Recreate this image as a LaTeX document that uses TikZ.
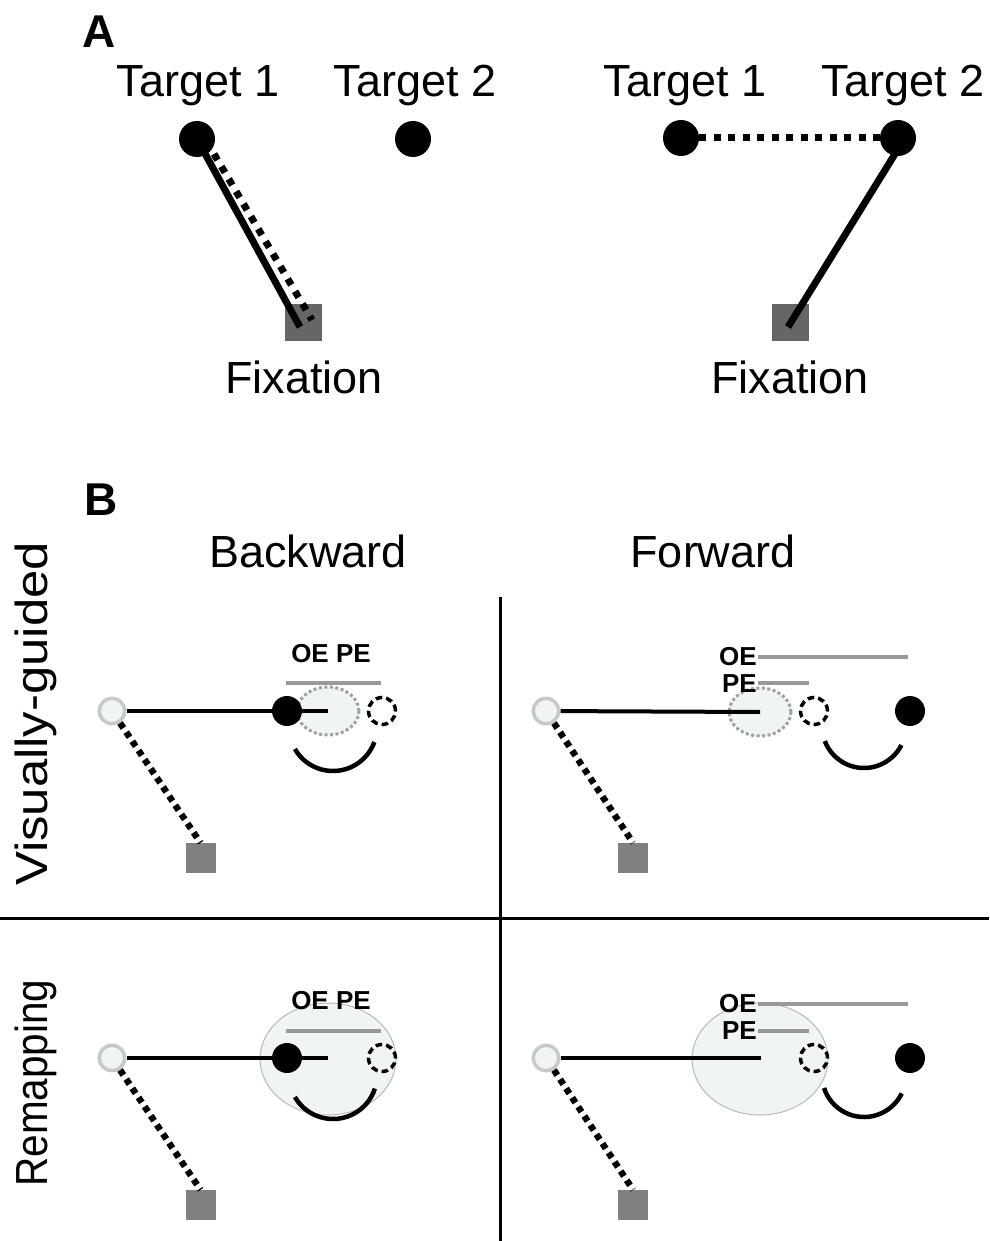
\documentclass[tikz,border=0pt]{standalone}
\usepackage{fontspec}
\setmainfont{Liberation Sans}
\usetikzlibrary{shapes.geometric}
\definecolor{sqA}{HTML}{666666}
\definecolor{sqB}{HTML}{808080}
\definecolor{ringc}{HTML}{C8C8C8}
\definecolor{pale}{HTML}{F0F4F5}
\definecolor{barc}{HTML}{999999}
\definecolor{ellc}{HTML}{A0A0A0}
\definecolor{bigell}{HTML}{B8B8B8}
\begin{document}
\begin{tikzpicture}[x=1pt,y=-1pt,
  lbl/.style={font=\fontsize{45}{50}\selectfont, inner sep=0, anchor=base},
  panellbl/.style={font=\fontsize{46}{50}\selectfont\bfseries, inner sep=0, anchor=base west},
  lblsm/.style={font=\fontsize{26}{30}\selectfont\bfseries, inner sep=0},
  adot/.style={circle, fill=black, minimum size=36pt, inner sep=0},
  asq/.style={rectangle, fill=sqA, minimum size=37pt, inner sep=0},
  bsq/.style={rectangle, fill=sqB, minimum size=30pt, inner sep=0},
  ringnode/.style={circle, draw=ringc, fill=pale, line width=3.5pt, minimum size=25.5pt, inner sep=0},
  bdot/.style={circle, fill=black, minimum size=30pt, inner sep=0},
  ghost/.style={circle, draw=black, dash pattern=on 6.5pt off 4pt, line width=3.5pt, minimum size=27pt, inner sep=0},
  smallell/.style={ellipse, draw=ellc, fill=pale, line width=3pt, dash pattern=on 3pt off 2.5pt, minimum width=62pt, minimum height=48pt, inner sep=0},
  bigellipse/.style={ellipse, draw=bigell, fill=pale, line width=1pt, minimum width=136pt, minimum height=112pt, inner sep=0},
  solidA/.style={line width=7pt},
  dotA/.style={line width=7pt, dash pattern=on 7pt off 7.5pt},
  hline/.style={line width=4pt},
  dotB/.style={line width=6.5pt, dash pattern=on 6pt off 5pt},
  barline/.style={line width=4pt, draw=barc},
  arcline/.style={line width=4.5pt},
  crossline/.style={line width=3pt}
]
\useasboundingbox (0,0) rectangle (989,1241);
\fill[white] (0,0) rectangle (989,1241);

% ---------- Panel A ----------
\node[panellbl] (pA) at (82,48) {A};
% left
\node[lbl] (lt1a) at (198,97) {Target 1};
\node[lbl] (lt2a) at (415,97) {Target 2};
\node[lbl] (lfa) at (304,393) {Fixation};
\node[asq] (fa) at (303.5,322.5) {};
\node[adot] (t1a) at (197,139) {};
\node[adot] (t2a) at (413,139) {};
\coordinate (ea) at (300,327);
\draw[solidA] (t1a.center) -- (ea);
\coordinate (da1) at (214,154);
\coordinate (da2) at (312,320);
\draw[dotA] (da1) -- (da2);
% right
\node[lbl] (lt1b) at (685,97) {Target 1};
\node[lbl] (lt2b) at (903,97) {Target 2};
\node[lbl] (lfb) at (790,393) {Fixation};
\node[asq] (fb) at (790.5,322.5) {};
\node[adot] (t1b) at (681,138) {};
\node[adot] (t2b) at (898,138) {};
\draw[dotA] (t1b) -- (t2b);
\coordinate (sb) at (903,141);
\coordinate (eb) at (788,327);
\draw[solidA] (sb) -- (eb);

% ---------- Panel B ----------
\node[panellbl] (pB) at (84,515) {B};
\node[lbl] (lback) at (308,567) {Backward};
\node[lbl] (lfwd) at (713,567) {Forward};
\node[lbl, rotate=90] (lvg) at (47,714) {\scalebox{1.13}[1]{Visually-guided}};
\node[lbl, rotate=90] (lrm) at (47,1083) {\scalebox{0.9}[1]{Remapping}};

\coordinate (cv1) at (500,597);
\coordinate (cv2) at (500,1241);
\coordinate (ch1) at (0,918);
\coordinate (ch2) at (989,918);
\draw[crossline] (cv1) -- (cv2);
\draw[crossline] (ch1) -- (ch2);

% --- top-left (visually-guided, backward)
\node[smallell] (e11) at (328,711) {};
\node[ringnode] (r11) at (112,711) {};
\draw[hline] (r11) -- (e11.center);
\node[bdot] (d11) at (287,711) {};
\node[ghost] (g11) at (382,711) {};
\coordinate (b11a) at (286,683);
\coordinate (b11b) at (381,683);
\draw[barline] (b11a) -- (b11b);
\node[lblsm] (t11) at (331,654) {OE PE};
\coordinate (a11) at (333,727);
\draw[arcline] ([shift={(150:44)}]a11) arc (150:20:44);
\node[bsq] (s11) at (200.5,858) {};
\draw[dotB] (r11) -- (s11.north);

% --- top-right (visually-guided, forward)
\node[smallell] (e12) at (760,712) {};
\node[ringnode] (r12) at (546,711) {};
\draw[hline] (r12) -- (e12.center);
\node[ghost] (g12) at (814,711) {};
\node[bdot] (d12) at (910,711) {};
\coordinate (b12a) at (758,657);
\coordinate (b12b) at (908,657);
\coordinate (b12c) at (758,683);
\coordinate (b12d) at (809,683);
\draw[barline] (b12a) -- (b12b);
\draw[barline] (b12c) -- (b12d);
\node[lblsm, anchor=east] (t12a) at (757,657) {OE};
\node[lblsm, anchor=east] (t12b) at (757,684) {PE};
\coordinate (a12) at (864,726);
\draw[arcline] ([shift={(159:42)}]a12) arc (159:27:42);
\node[bsq] (s12) at (633,858) {};
\draw[dotB] (r12) -- (s12.north);

% --- bottom-left (remapping, backward)
\node[bigellipse] (e21) at (328,1059) {};
\node[ringnode] (r21) at (112,1058) {};
\coordinate (m21) at (328,1058);
\draw[hline] (r21) -- (m21);
\node[bdot] (d21) at (287,1058) {};
\node[ghost] (g21) at (382,1058) {};
\coordinate (b21a) at (286,1031);
\coordinate (b21b) at (381,1031);
\draw[barline] (b21a) -- (b21b);
\node[lblsm] (t21) at (331,1001) {OE PE};
\coordinate (a21) at (333,1075);
\draw[arcline] ([shift={(150:44)}]a21) arc (150:18:44);
\node[bsq] (s21) at (200.5,1205) {};
\draw[dotB] (r21) -- (s21.north);

% --- bottom-right (remapping, forward)
\node[bigellipse] (e22) at (760,1059) {};
\node[ringnode] (r22) at (546,1058) {};
\coordinate (m22) at (761,1058);
\draw[hline] (r22) -- (m22);
\node[ghost] (g22) at (814,1058) {};
\node[bdot] (d22) at (910,1058) {};
\coordinate (b22a) at (758,1004);
\coordinate (b22b) at (908,1004);
\coordinate (b22c) at (758,1031);
\coordinate (b22d) at (809,1031);
\draw[barline] (b22a) -- (b22b);
\draw[barline] (b22c) -- (b22d);
\node[lblsm, anchor=east] (t22a) at (757,1004) {OE};
\node[lblsm, anchor=east] (t22b) at (757,1031) {PE};
\coordinate (a22) at (864,1075);
\draw[arcline] ([shift={(162:42)}]a22) arc (162:26:42);
\node[bsq] (s22) at (633,1205) {};
\draw[dotB] (r22) -- (s22.north);
\end{tikzpicture}
\end{document}
